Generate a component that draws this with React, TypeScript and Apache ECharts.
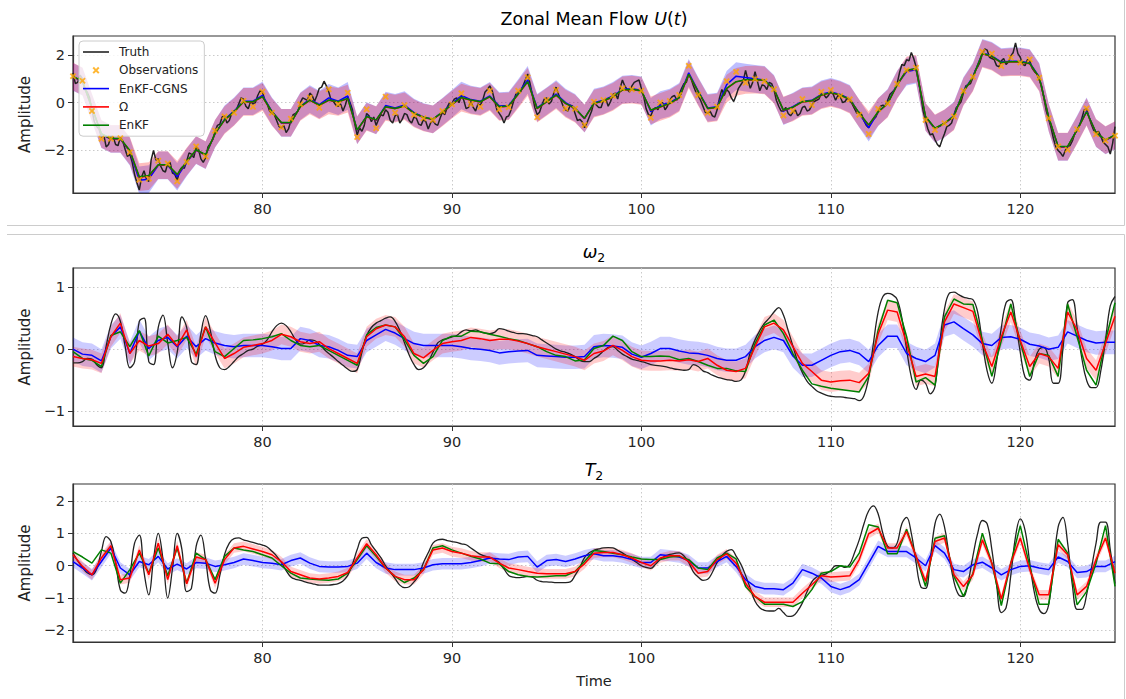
import React, { useEffect, useRef } from 'react';
import * as echarts from 'echarts';

// ---------- time grids ----------
const EST_START = 70;
const EST_STEP = 0.5;
const EST_COUNT = 111;
const TRUTH_STEP = 0.25;
const TRUTH_COUNT = 221;
const estTimes: number[] = Array.from({ length: EST_COUNT }, (_, i) => EST_START + i * EST_STEP);
const truthTimes: number[] = Array.from({ length: TRUTH_COUNT }, (_, i) => EST_START + i * TRUTH_STEP);

const X_TICKS = [80, 90, 100, 110, 120];

// ---------- Panel 1: Zonal mean flow U(t) ----------
// truth sampled every 0.25 (on grid) ...
const uTruth = [
  1.25, 0.85, 1.0, 0.45, -0.3, -1.0, -1.45, -1.85, -1.4, -1.75, -1.45, -1.95, -2.15, -3.0, -3.65, -2.85, -3.3, -2.0, -2.35, -2.85,
  -2.55, -2.95, -3.25, -2.7, -2.45, -2.15, -1.85, -2.35, -2.3, -1.7, -1.2, -0.9, -0.55, -0.75, -0.35, -0.05, 0.15, -0.25, -0.05, 0.3,
  0.45, -0.05, -0.45, -0.75, -1.05, -1.25, -0.75, -0.45, 0.0, 0.15, 0.4, 0.05, 0.6, 0.9, 0.45, 0.05, -0.15, -0.35, 0.25, -0.3,
  -1.35, -1.2, -0.45, -0.8, -0.95, -0.5, -0.3, -0.75, -0.55, -0.85, -0.45, -0.75, -0.6, -0.9, -0.7, -1.1, -0.75, -0.95, -0.4, -0.2,
  -0.05, 0.2, 0.3, -0.25, 0.05, -0.35, -0.1, 0.45, 0.7, 0.1, -0.45, -0.85, -0.55, 0.05, 0.45, 0.7, 1.2, 0.3, -0.5, -0.1,
  0.2, 0.05, 0.65, 0.1, -0.3, -0.1, -0.45, -0.7, -1.05, -0.6, 0.05, -0.2, 0.1, -0.15, 0.35, 0.15, 0.95, 0.55, 0.7, 0.9,
  0.6, -0.25, -0.55, -0.2, -0.05, -0.3, 0.1, 0.3, 0.35, 0.8, 1.2, 0.7, 0.3, -0.15, -0.45, -0.55, -0.3, 0.55, 0.55, 0.2,
  0.3, 0.75, 1.35, 0.6, 1.3, 0.5, 0.7, 0.85, 0.55, -0.15, -0.35, -0.45, -0.4, -0.55, -0.2, -0.35, -0.1, 0.1, 0.4, 0.2,
  0.5, 0.1, 0.25, 0.05, 0.1, -0.25, -0.4, -0.75, -1.05, -0.7, -0.35, -0.1, 0.1, 0.45, 0.8, 1.6, 1.8, 2.1, 1.5, 0.3,
  -0.75, -1.35, -1.55, -1.85, -1.3, -0.95, -0.5, -0.1, 0.4, 0.75, 1.05, 1.5, 2.05, 2.2, 1.85, 1.55, 1.75, 1.6, 1.95, 2.5,
  1.9, 1.55, 1.75, 1.3, 0.95, 0.2, -0.7, -1.5, -2.0, -2.25, -1.85, -1.6, -1.15, -0.65, -0.25, -0.9, -1.25, -1.4, -1.75, -2.15,
  -1.0,
];
// ... and the noisy values read half-way between those samples (t = 70.125, 70.375, ...)
const uTruthMid = [
  0.8, 1.15, 0.55, 0.2, -0.8, -1.1, -1.35, -1.75, -1.45, -1.8, -1.6, -2.25, -2.5, -3.35, -3.1, -3.2, -2.4, -2.4, -2.65, -2.9,
  -2.5, -3.0, -2.85, -2.75, -2.1, -2.3, -1.95, -2.5, -1.85, -1.55, -0.95, -0.6, -0.85, -0.45, -0.3, 0.2, -0.15, 0.05, 0.0, 0.5,
  0.1, -0.35, -0.5, -1.0, -0.95, -1.1, -0.5, -0.35, 0.2, 0.1, 0.3, 0.3, 0.65, 0.7, 0.1, -0.1, -0.05, -0.1, 0.0, -0.9,
  -1.05, -0.95, -0.55, -0.6, -0.7, -0.55, -0.4, -0.85, -0.5, -0.7, -0.5, -0.85, -0.65, -0.95, -0.8, -0.85, -0.9, -0.65, -0.5, 0.0,
  0.15, 0.0, 0.1, -0.2, -0.2, -0.05, 0.1, 0.55, 0.5, -0.3, -0.6, -0.6, -0.3, 0.35, 0.45, 0.95, 0.8, -0.2, -0.4, 0.15,
  -0.05, 0.4, 0.35, -0.15, -0.35, -0.15, -0.75, -0.8, -0.85, -0.35, -0.1, -0.2, 0.15, 0.05, 0.4, 0.6, 0.7, 0.45, 0.85, 0.95,
  0.25, -0.5, -0.3, -0.3, 0.0, -0.15, 0.25, 0.1, 0.6, 0.85, 1.0, 0.45, 0.1, -0.4, -0.35, -0.6, 0.2, 0.3, 0.45, 0.05,
  0.6, 0.9, 0.95, 0.85, 0.9, 0.75, 0.55, 0.8, 0.1, -0.35, -0.2, -0.55, -0.3, -0.45, -0.15, -0.3, 0.05, 0.15, 0.35, 0.3,
  0.35, 0.3, 0.0, 0.2, -0.05, -0.45, -0.5, -0.95, -0.8, -0.6, -0.15, -0.15, 0.35, 0.55, 1.25, 1.55, 1.75, 1.85, 1.0, -0.35,
  -1.1, -1.3, -1.75, -1.55, -1.0, -0.85, -0.2, 0.05, 0.7, 0.8, 1.35, 1.7, 2.25, 1.9, 1.8, 1.5, 1.85, 1.7, 2.1, 2.05,
  1.6, 1.8, 1.45, 1.2, 0.7, -0.35, -1.05, -1.85, -2.1, -2.0, -1.8, -1.3, -0.95, -0.3, -0.6, -1.15, -1.2, -1.65, -1.85, -1.7,
];
const uObs = [
  1.11, 0.92, -0.35, -1.51, -1.51, -1.49, -2.07, -3.23, -3.18, -2.43,
  -2.55, -3.29, -2.48, -1.83, -2.25, -1.17, -0.58, -0.42, 0.08, -0.17,
  0.46, -0.42, -1.03, -0.67, -0.07, 0.21, -0.21, 0.56, -0.07, 0.42,
  -1.44, -0.28, -1.07, 0.25, -0.42, -0.11, -0.51, -0.65, -0.72, -0.35,
  -0.07, 0.39, -0.06, -0.17, 0.5, -0.28, -0.19, 0.5, 1.06, -0.61,
  0.11, 0.53, -0.24, -0.25, -0.93, 0.04, 0.11, 0.29, 0.6, 0.56,
  0.5, -0.63, 0.01, 0.07, 0.32, 1.54, 0.32, -0.42, -0.17, 0.9,
  1.29, 0.83, 0.99, 0.9, 0.56, -0.54, -0.35, 0.15, -0.1, 0.46,
  0.53, 0.28, 0.14, -0.51, -1.31, -0.26, -0.03, 0.78, 1.36, 1.46,
  -0.72, -1.14, -0.86, -0.58, 0.49, 1.08, 2.13, 2.06, 1.53, 1.89,
  1.68, 1.81, 1.04, -0.65, -1.83, -1.97, -1.11, -0.24, -1.32, -1.58,
  -1.38,
];
const uCgns = [
  1.08, 0.88, -0.22, -1.32, -1.52, -1.52, -2.05, -3.25, -3.2, -2.62,
  -2.62, -3.1, -2.5, -1.99, -2.2, -1.3, -0.7, -0.36, 0.06, 0.06,
  0.3, -0.36, -0.85, -0.85, -0.15, 0.15, -0.08, 0.2, 0.06, 0.28,
  -1.16, -0.56, -0.74, -0.12, -0.22, -0.1, -0.42, -0.6, -0.7, -0.38,
  -0.05, 0.3, 0.13, 0.06, 0.28, -0.14, -0.12, 0.4, 0.95, -0.22,
  0.06, 0.36, 0.0, -0.22, -0.67, 0.0, 0.1, 0.28, 0.55, 0.58,
  0.52, -0.38, -0.1, 0.0, 0.24, 1.25, 0.48, -0.22, -0.17, 0.75,
  1.11, 1.05, 1.0, 0.95, 0.58, -0.35, -0.17, 0.06, 0.1, 0.35,
  0.45, 0.34, 0.16, -0.46, -1.05, -0.4, -0.01, 0.76, 1.3, 1.38,
  -0.6, -1.1, -0.88, -0.54, 0.48, 1.08, 2.08, 1.96, 1.7, 1.73,
  1.73, 1.66, 1.08, -0.63, -1.85, -1.85, -1.12, -0.36, -1.27, -1.58,
  -1.37,
];
const uOmega = [
  1.09, 0.89, -0.21, -1.31, -1.51, -1.51, -2.02, -3.12, -3.07, -2.61,
  -2.61, -3.02, -2.47, -1.98, -2.19, -1.29, -0.73, -0.39, 0.03, 0.03,
  0.24, -0.39, -0.84, -0.84, -0.18, 0.1, -0.11, 0.1, 0.03, 0.17,
  -1.15, -0.59, -0.73, -0.18, -0.25, -0.15, -0.45, -0.62, -0.7, -0.41,
  -0.08, 0.21, 0.1, 0.03, 0.24, -0.18, -0.15, 0.35, 0.87, -0.25,
  0.03, 0.31, -0.04, -0.25, -0.66, -0.04, 0.07, 0.24, 0.52, 0.55,
  0.49, -0.32, -0.18, -0.04, 0.2, 1.18, 0.45, -0.25, -0.2, 0.59,
  0.87, 0.95, 0.96, 0.93, 0.55, -0.32, -0.2, 0.03, 0.07, 0.31,
  0.41, 0.31, 0.13, -0.45, -0.94, -0.39, -0.04, 0.73, 1.35, 1.42,
  -0.59, -1.08, -0.87, -0.57, 0.45, 1.05, 2.05, 1.93, 1.67, 1.7,
  1.7, 1.63, 1.05, -0.62, -1.84, -1.84, -1.15, -0.39, -1.26, -1.57,
  -1.36,
];
const uEnkf = [
  1.1, 0.9, -0.2, -1.3, -1.5, -1.5, -2.0, -3.1, -3.05, -2.6,
  -2.6, -3.0, -2.46, -1.97, -2.18, -1.28, -0.72, -0.38, 0.04, 0.04,
  0.25, -0.38, -0.83, -0.83, -0.17, 0.11, -0.1, 0.11, 0.04, 0.18,
  -1.14, -0.58, -0.72, -0.17, -0.24, -0.14, -0.44, -0.61, -0.69, -0.4,
  -0.07, 0.22, 0.11, 0.04, 0.25, -0.17, -0.14, 0.36, 0.88, -0.24,
  0.04, 0.32, -0.03, -0.24, -0.65, -0.03, 0.08, 0.25, 0.53, 0.56,
  0.5, -0.31, -0.17, -0.03, 0.21, 1.19, 0.46, -0.24, -0.19, 0.6,
  0.88, 0.96, 0.97, 0.94, 0.56, -0.31, -0.19, 0.04, 0.08, 0.32,
  0.42, 0.32, 0.14, -0.44, -0.93, -0.38, -0.03, 0.74, 1.36, 1.43,
  -0.58, -1.07, -0.86, -0.56, 0.46, 1.06, 2.06, 1.94, 1.68, 1.71,
  1.71, 1.64, 1.06, -0.61, -1.83, -1.83, -1.14, -0.38, -1.25, -1.56,
  -1.35,
];

// ---------- Panel 2: omega_2 ----------
const wTruth = [
  -0.22, -0.22, -0.2, -0.15, -0.16, -0.25, -0.3, 0.05, 0.4, 0.57, 0.45, 0.05, -0.3, -0.2, 0.45, 0.5, -0.2, -0.25, 0.35, 0.55,
  0.1, -0.3, -0.05, 0.52, 0.35, -0.2, -0.25, 0.25, 0.54, 0.3, -0.1, -0.3, -0.33, -0.28, -0.2, -0.12, -0.07, -0.02, 0.0, 0.05,
  0.08, 0.15, 0.28, 0.38, 0.42, 0.38, 0.28, 0.15, 0.08, 0.1, 0.15, 0.14, 0.08, 0.0, -0.07, -0.13, -0.2, -0.26, -0.32, -0.36,
  -0.33, -0.05, 0.22, 0.35, 0.42, 0.46, 0.5, 0.52, 0.45, 0.3, 0.1, -0.1, -0.25, -0.33, -0.3, -0.2, -0.05, 0.1, 0.15, 0.17,
  0.2, 0.22, 0.28, 0.31, 0.3, 0.31, 0.28, 0.26, 0.25, 0.27, 0.33, 0.32, 0.29, 0.27, 0.25, 0.25, 0.24, 0.22, 0.2, 0.15,
  0.1, 0.05, 0.0, -0.03, -0.05, -0.08, -0.12, -0.18, -0.2, -0.2, -0.15, -0.1, -0.03, 0.03, 0.04, -0.02, -0.08, -0.12, -0.16, -0.18,
  -0.2, -0.22, -0.25, -0.26, -0.27, -0.28, -0.3, -0.32, -0.33, -0.34, -0.33, -0.25, -0.28, -0.35, -0.38, -0.42, -0.45, -0.47, -0.49, -0.5,
  -0.52, -0.5, -0.35, -0.05, 0.15, 0.3, 0.42, 0.5, 0.6, 0.67, 0.55, 0.3, 0.05, -0.2, -0.38, -0.52, -0.6, -0.67, -0.71, -0.74,
  -0.76, -0.77, -0.77, -0.78, -0.79, -0.8, -0.83, -0.75, -0.45, 0.1, 0.6, 0.85, 0.9, 0.88, 0.8, 0.5, 0.0, -0.45, -0.65, -0.5,
  -0.55, -0.72, -0.6, 0.1, 0.65, 0.9, 0.92, 0.88, 0.84, 0.82, 0.8, 0.6, 0.1, -0.35, -0.55, -0.2, 0.35, 0.75, 0.8, 0.45,
  -0.05, -0.45, -0.5, -0.2, 0.0, 0.03, -0.15, -0.55, -0.55, 0.0, 0.75, 0.8, 0.35, -0.15, -0.5, -0.62, -0.62, -0.35, 0.15, 0.7,
  0.85,
];
const wCgns = [
  0.0, -0.08, -0.1, -0.19, 0.2, 0.36, -0.07, 0.29, 0.01, 0.14,
  0.19, 0.04, 0.21, 0.04, 0.17, 0.1, 0.06, 0.04, 0.06, 0.06,
  0.06, 0.04, 0.01, 0.01, 0.17, 0.14, 0.06, 0.04, -0.02, -0.1,
  -0.12, 0.14, 0.23, 0.32, 0.26, 0.17, 0.09, 0.06, 0.06, 0.06,
  0.06, 0.04, 0.01, 0.0, -0.02, -0.06, -0.04, -0.03, -0.02, -0.1,
  -0.11, -0.12, -0.13, -0.13, -0.12, 0.04, 0.06, 0.05, 0.03, -0.08,
  -0.13, -0.07, 0.01, 0.01, -0.03, -0.06, -0.07, -0.1, -0.15, -0.18,
  -0.18, -0.12, 0.04, 0.14, 0.19, 0.14, -0.11, -0.26, -0.26, -0.18,
  -0.1, -0.04, -0.02, -0.07, -0.2, 0.06, 0.21, 0.21, -0.07, -0.15,
  -0.2, -0.1, 0.39, 0.44, 0.33, 0.23, 0.09, 0.06, 0.19, 0.2,
  0.16, 0.08, 0.05, 0.0, 0.03, 0.28, 0.21, 0.14, 0.1, 0.11,
  0.11,
];
const wOmega = [
  -0.12, -0.15, -0.17, -0.23, 0.2, 0.42, -0.07, 0.14, 0.05, 0.09,
  0.24, 0.05, 0.31, -0.12, 0.36, 0.1, -0.15, -0.07, 0.03, 0.06,
  0.09, 0.14, 0.24, 0.2, 0.12, 0.09, 0.12, 0.01, -0.07, -0.15,
  -0.23, 0.2, 0.33, 0.39, 0.36, 0.2, -0.07, -0.14, -0.02, 0.09,
  0.12, 0.14, 0.19, 0.17, 0.14, 0.16, 0.16, 0.13, 0.09, 0.04,
  0.0, -0.04, -0.08, -0.12, -0.18, -0.07, -0.03, 0.06, -0.02, -0.12,
  -0.18, -0.19, -0.19, -0.18, -0.19, -0.17, -0.2, -0.15, -0.26, -0.34,
  -0.36, -0.31, 0.04, 0.36, 0.42, 0.31, 0.04, -0.23, -0.36, -0.5,
  -0.53, -0.51, -0.5, -0.54, -0.39, 0.25, 0.63, 0.6, 0.09, -0.44,
  -0.4, -0.44, 0.44, 0.73, 0.67, 0.61, 0.09, -0.28, 0.2, 0.6,
  0.14, -0.28, -0.07, -0.12, -0.31, 0.6, 0.31, -0.15, -0.34, 0.09,
  0.53,
];
const wEnkf = [
  -0.04, -0.15, -0.18, -0.28, 0.22, 0.28, 0.04, 0.3, -0.11, 0.21,
  0.1, 0.14, 0.19, -0.08, 0.36, -0.04, -0.12, 0.01, 0.14, 0.15,
  0.17, 0.2, 0.25, 0.14, 0.06, 0.04, 0.06, -0.02, -0.1, -0.18,
  -0.26, 0.23, 0.35, 0.39, 0.36, 0.15, -0.1, -0.23, -0.12, 0.14,
  0.21, 0.21, 0.29, 0.28, 0.24, 0.21, 0.17, 0.14, 0.09, 0.04,
  -0.04, -0.1, -0.12, -0.19, -0.17, 0.01, 0.06, 0.21, 0.14, -0.04,
  -0.12, -0.12, -0.11, -0.12, -0.17, -0.15, -0.2, -0.26, -0.31, -0.31,
  -0.35, -0.36, 0.09, 0.39, 0.47, 0.25, -0.07, -0.34, -0.56, -0.6,
  -0.63, -0.65, -0.67, -0.69, -0.44, 0.31, 0.79, 0.75, 0.2, -0.53,
  -0.46, -0.58, 0.52, 0.81, 0.73, 0.72, 0.14, -0.44, 0.14, 0.73,
  0.12, -0.44, -0.07, -0.1, -0.44, 0.73, 0.2, -0.34, -0.58, 0.14,
  0.75,
];

// ---------- Panel 3: T_2 ----------
const tTruth = [
  0.39, 0.15, -0.05, -0.22, -0.28, -0.1, 0.45, 0.9, 0.75, 0.1, -0.75, -0.85, -0.3, 0.7, 0.95, -0.2, -0.9, 0.2, 1.0, 0.2,
  -1.0, -0.1, 1.0, 0.5, -0.8, -0.7, 0.6, 0.95, 0.2, -0.75, -0.85, -0.3, 0.35, 0.7, 0.84, 0.86, 0.8, 0.76, 0.72, 0.68,
  0.64, 0.58, 0.45, 0.3, 0.1, -0.15, -0.35, -0.42, -0.45, -0.5, -0.54, -0.57, -0.6, -0.6, -0.6, -0.58, -0.55, -0.47, -0.3, 0.05,
  0.5, 0.85, 0.88, 0.65, 0.45, 0.25, 0.0, -0.2, -0.4, -0.6, -0.68, -0.65, -0.5, -0.3, 0.1, 0.4, 0.7, 0.8, 0.82, 0.78,
  0.75, 0.72, 0.68, 0.65, 0.55, 0.45, 0.35, 0.3, 0.25, 0.2, 0.1, -0.1, -0.3, -0.35, -0.37, -0.35, -0.33, -0.35, -0.45, -0.49,
  -0.5, -0.51, -0.52, -0.52, -0.52, -0.5, -0.3, -0.05, 0.25, 0.4, 0.48, 0.52, 0.55, 0.56, 0.55, 0.48, 0.4, 0.3, 0.2, 0.1,
  0.0, -0.05, -0.08, 0.05, 0.2, 0.3, 0.35, 0.38, 0.4, 0.3, 0.1, -0.2, -0.35, -0.45, -0.42, -0.2, 0.1, 0.3, 0.45, 0.5,
  0.3, 0.05, -0.3, -0.7, -1.1, -1.3, -1.38, -1.4, -1.4, -1.32, -1.45, -1.57, -1.55, -1.4, -1.15, -0.8, -0.5, -0.35, -0.3, -0.25,
  -0.15, 0.0, 0.0, -0.05, 0.05, 0.4, 0.8, 1.3, 1.7, 1.85, 1.6, 1.0, 0.6, 0.55, 0.7, 1.3, 1.5, 1.0, 0.1, -0.65,
  -0.7, 0.2, 1.3, 1.6, 1.2, 0.3, -0.5, -0.9, -0.95, -0.5, 0.3, 1.0, 1.4, 1.3, 0.5, -0.6, -1.45, -1.3, -0.3, 0.9,
  1.45, 1.1, 0.1, -0.85, -1.35, -1.48, -1.2, 0.0, 1.2, 1.5, 0.7, -0.6, -1.35, -1.35, -0.9, -0.1, 0.7, 1.35, 1.35, 0.5,
  -0.55,
];
const tCgns = [
  0.13, -0.07, -0.28, 0.13, 0.55, -0.07, -0.28, 0.13, 0.03, 0.29,
  -0.1, 0.05, -0.1, 0.1, 0.08, -0.02, 0.03, 0.1, 0.21, 0.16,
  0.1, 0.08, 0.03, 0.16, 0.24, 0.08, -0.02, -0.04, -0.04, -0.02,
  0.08, 0.39, 0.1, -0.07, -0.12, -0.12, -0.12, -0.07, 0.03, 0.06,
  0.06, 0.06, 0.1, 0.16, 0.24, 0.21, 0.19, 0.27, 0.29, -0.04,
  0.16, 0.19, 0.13, 0.21, 0.31, 0.37, 0.31, 0.31, 0.27, 0.19,
  0.1, 0.1, 0.34, 0.31, 0.27, 0.16, -0.07, -0.07, 0.13, 0.29,
  -0.02, -0.43, -0.64, -0.71, -0.71, -0.74, -0.54, -0.12, -0.23, -0.38,
  -0.64, -0.74, -0.64, -0.43, 0.08, 0.6, 0.44, 0.44, 0.44, 0.24,
  0.0, 0.62, 0.39, -0.12, -0.18, 0.03, 0.11, -0.07, -0.28, -0.12,
  -0.02, 0.0, -0.07, -0.12, 0.27, 0.13, -0.21, -0.18, -0.02, -0.02,
  0.13,
];
const tOmega = [
  0.34, -0.02, -0.28, 0.24, 0.62, -0.43, -0.38, 0.49, -0.28, 0.7,
  -0.43, 0.62, -0.56, 0.27, 0.19, -0.54, 0.19, 0.55, 0.6, 0.52,
  0.44, 0.34, 0.13, -0.18, -0.28, -0.38, -0.41, -0.38, -0.33, -0.21,
  0.24, 0.68, 0.34, -0.07, -0.33, -0.43, -0.43, -0.12, 0.49, 0.55,
  0.44, 0.39, 0.31, 0.27, 0.27, 0.08, -0.07, -0.12, -0.18, -0.23,
  -0.25, -0.25, -0.25, -0.18, 0.06, 0.39, 0.41, 0.41, 0.34, 0.24,
  0.1, 0.0, 0.24, 0.31, 0.31, 0.13, -0.23, -0.18, 0.19, 0.37,
  0.08, -0.54, -0.95, -1.13, -1.13, -1.13, -1.13, -0.85, -0.59, -0.31,
  -0.35, -0.33, -0.31, 0.19, 0.99, 1.16, 0.55, 0.55, 1.06, 0.29,
  -0.48, 0.75, 0.86, -0.28, -0.64, -0.28, 0.8, 0.08, -1.03, 0.08,
  0.86, -0.12, -0.9, -0.9, 0.65, 0.34, -0.9, -0.64, 0.19, 0.86,
  -0.23,
];
const tEnkf = [
  0.44, 0.27, 0.08, 0.49, 0.39, -0.54, -0.12, 0.39, -0.23, 0.55,
  -0.31, 0.55, -0.54, 0.39, 0.19, -0.43, 0.29, 0.55, 0.49, 0.44,
  0.34, 0.24, 0.0, -0.23, -0.38, -0.41, -0.43, -0.45, -0.41, -0.23,
  0.19, 0.62, 0.29, -0.07, -0.33, -0.52, -0.38, -0.12, 0.55, 0.62,
  0.49, 0.39, 0.29, 0.21, 0.08, 0.06, -0.18, -0.28, -0.33, -0.35,
  -0.33, -0.31, -0.31, -0.18, 0.13, 0.47, 0.44, 0.39, 0.34, 0.27,
  0.21, 0.19, 0.19, 0.27, 0.29, 0.19, -0.07, -0.12, 0.24, 0.39,
  0.21, -0.64, -0.95, -1.19, -1.19, -1.19, -1.26, -1.11, -0.74, -0.23,
  -0.18, 0.0, -0.04, 0.39, 1.27, 1.2, 0.37, 0.37, 1.13, 0.29,
  -0.64, 0.85, 0.93, -0.33, -0.95, -0.23, 1.01, 0.08, -1.23, 0.08,
  1.24, -0.02, -1.19, -1.19, 0.82, 0.39, -1.21, -0.8, 0.08, 1.24,
  -0.64,
];

// uncertainty half-widths (posterior spread) per panel
const U_SPREAD_CGNS = 0.58;
const U_SPREAD_OMEGA = 0.58;
const W_SPREAD_CGNS = 0.19;
const W_SPREAD_OMEGA = 0.16;
const T_SPREAD_CGNS = 0.18;
const T_SPREAD_OMEGA = 0.15;

const FONT = 'DejaVu Sans';
const C_TRUTH = '#222222';
const C_CGNS = '#0000ff';
const C_OMEGA = '#ff0000';
const C_ENKF = '#008000';
const C_OBS = '#ffa500';
const X_MARK =
  'path://M0,2 L2,0 L5,3 L8,0 L10,2 L7,5 L10,8 L8,10 L5,7 L2,10 L0,8 L3,5 Z';
const LINE_ICON = 'path://M0,0 L26,0 L26,1.6 L0,1.6 Z';

const pairs = (ts: number[], vs: number[]) => ts.map((t, i) => [t, vs[i]]);

// on-grid truth samples merged with the half-way samples, in time order
function mergeFine(ts: number[], onGrid: number[], mid: number[]) {
  const out: number[][] = [];
  for (let i = 0; i < ts.length; i++) {
    out.push([ts[i], onGrid[i]]);
    if (i < mid.length) out.push([ts[i] + TRUTH_STEP / 2, mid[i]]);
  }
  return out;
}

function band(name: string, idx: number, mean: number[], half: number, color: string) {
  const data = estTimes.map((t, i) => [t, mean[i] - half, mean[i] + half]);
  return {
    type: 'custom',
    name,
    xAxisIndex: idx,
    yAxisIndex: idx,
    silent: true,
    clip: true,
    z: 1,
    encode: { x: 0, y: [1, 2] },
    data,
    renderItem: (params: any, api: any) => {
      if (params.dataIndex !== 0) return null;
      const up = data.map((d) => api.coord([d[0], d[2]]));
      const lo = data.map((d) => api.coord([d[0], d[1]])).reverse();
      return {
        type: 'polygon',
        shape: { points: up.concat(lo) },
        style: { fill: color, stroke: 'none' },
      };
    },
  };
}

function lineOf(name: string, idx: number, data: any[], color: string, width: number, smooth: any = false) {
  return {
    type: 'line',
    name,
    xAxisIndex: idx,
    yAxisIndex: idx,
    data,
    showSymbol: false,
    symbol: 'none',
    smooth,
    z: 3,
    lineStyle: { color, width },
    itemStyle: { color },
  };
}
const line = (name: string, idx: number, ts: number[], vs: number[], color: string, width: number, smooth: any = false) =>
  lineOf(name, idx, pairs(ts, vs), color, width, smooth);

const minus = (v: number) => (v < 0 ? '\u2212' + Math.abs(v) : String(v));

const gridDefs = [
  { top: 36, height: 157, min: -3.78, max: 2.79, ticks: [-2, 0, 2] },
  { top: 268, height: 158, min: -1.24, max: 1.31, ticks: [-1, 0, 1] },
  { top: 484, height: 158, min: -2.36, max: 2.53, ticks: [-2, -1, 0, 1, 2] },
];

const splitStyle = { color: '#c4c4c4', width: 0.9, type: [1.5, 2.5] };
const axisColor = '#333333';

const subTitleStyle = {
  fontFamily: FONT, fontSize: 17.5, fontWeight: 'normal', color: '#000',
  rich: {
    i: { fontFamily: FONT, fontSize: 17.5, fontStyle: 'italic', color: '#000', lineHeight: 24 },
    s: { fontFamily: FONT, fontSize: 12.5, color: '#000', verticalAlign: 'bottom', lineHeight: 14 },
  },
};

export default function App() {
  const ref = useRef<HTMLDivElement>(null);
  useEffect(() => {
    if (!ref.current) return;
    const chart = echarts.init(ref.current, undefined, { renderer: 'svg' });
    const option: any = {
      animation: false,
      backgroundColor: '#ffffff',
      textStyle: { fontFamily: FONT },
      title: [
        {
          text: 'Zonal Mean Flow {i|U}({i|t})',
          left: 594,
          top: 10,
          textAlign: 'center',
          padding: 0,
          textStyle: {
            fontFamily: FONT, fontSize: 17.5, fontWeight: 'normal', color: '#000',
            rich: { i: { fontFamily: FONT, fontSize: 17.5, fontStyle: 'italic', color: '#000' } },
          },
        },
        { text: '{i|ω}{s|2}', left: 594, top: 240, textAlign: 'center', padding: 0, textStyle: subTitleStyle },
        { text: '{i|T}{s|2}', left: 594, top: 458, textAlign: 'center', padding: 0, textStyle: subTitleStyle },
      ],
      legend: {
        show: true,
        orient: 'vertical',
        left: 79,
        top: 41,
        padding: [5, 6, 5, 4],
        itemGap: 6.3,
        itemWidth: 26,
        itemHeight: 7,
        backgroundColor: 'rgba(255,255,255,0.8)',
        borderColor: '#cccccc',
        borderWidth: 1,
        borderRadius: 4,
        textStyle: { fontFamily: FONT, fontSize: 12, color: '#222', padding: [0, 0, 0, 5] },
        data: [
          { name: 'Truth', icon: LINE_ICON, itemStyle: { color: C_TRUTH } },
          { name: 'Observations', icon: X_MARK, itemStyle: { color: C_OBS } },
          { name: 'EnKF-CGNS', icon: LINE_ICON, itemStyle: { color: C_CGNS } },
          { name: 'Ω', icon: LINE_ICON, itemStyle: { color: C_OMEGA } },
          { name: 'EnKF', icon: LINE_ICON, itemStyle: { color: C_ENKF } },
        ],
      },
      grid: gridDefs.map((g) => ({
        left: 73,
        right: 11,
        top: g.top,
        height: g.height,
        show: true,
        borderColor: axisColor,
        borderWidth: 1.2,
        backgroundColor: 'transparent',
      })),
      xAxis: gridDefs.map((g, i) => ({
        type: 'value',
        gridIndex: i,
        min: 70,
        max: 125,
        name: i === 2 ? 'Time' : '',
        nameLocation: 'middle',
        nameGap: 31,
        nameTextStyle: { fontFamily: FONT, fontSize: 14.5, color: '#222' },
        axisLine: { show: true, onZero: false, lineStyle: { color: axisColor, width: 1.2 } },
        axisTick: { show: true, length: 5, customValues: X_TICKS, lineStyle: { color: axisColor, width: 1 } },
        axisLabel: { customValues: X_TICKS, margin: 8, fontFamily: FONT, fontSize: 14.5, color: '#262626' },
        splitLine: { show: true, lineStyle: splitStyle },
      })),
      yAxis: gridDefs.map((g, i) => ({
        type: 'value',
        gridIndex: i,
        min: g.min,
        max: g.max,
        name: 'Amplitude',
        nameLocation: 'middle',
        nameGap: 40,
        nameTextStyle: { fontFamily: FONT, fontSize: 15, color: '#222' },
        axisLine: { show: true, onZero: false, lineStyle: { color: axisColor, width: 1.2 } },
        axisTick: { show: true, length: 5, customValues: g.ticks, lineStyle: { color: axisColor, width: 1 } },
        axisLabel: { customValues: g.ticks, margin: 8, fontFamily: FONT, fontSize: 14.5, color: '#262626', formatter: minus },
        splitLine: { show: true, lineStyle: splitStyle },
      })),
      graphic: [
        { type: 'line', shape: { x1: 7, y1: 225.5, x2: 1124.5, y2: 225.5 }, style: { stroke: '#cccccc', lineWidth: 1 }, silent: true },
        { type: 'line', shape: { x1: 1124.5, y1: 0, x2: 1124.5, y2: 225.5 }, style: { stroke: '#cccccc', lineWidth: 1 }, silent: true },
        { type: 'line', shape: { x1: 7, y1: 234.5, x2: 1124.5, y2: 234.5 }, style: { stroke: '#cccccc', lineWidth: 1 }, silent: true },
        { type: 'line', shape: { x1: 1124.5, y1: 234.5, x2: 1124.5, y2: 699 }, style: { stroke: '#cccccc', lineWidth: 1 }, silent: true },
      ],
      series: [
        // panel 1
        band('U band CGNS', 0, uCgns, U_SPREAD_CGNS, 'rgba(0,0,255,0.26)'),
        band('U band Omega', 0, uOmega, U_SPREAD_OMEGA, 'rgba(255,0,0,0.26)'),
        lineOf('Truth', 0, mergeFine(truthTimes, uTruth, uTruthMid), C_TRUTH, 1.5),
        line('EnKF-CGNS', 0, estTimes, uCgns, C_CGNS, 1.5),
        line('Ω', 0, estTimes, uOmega, C_OMEGA, 1.5),
        line('EnKF', 0, estTimes, uEnkf, C_ENKF, 1.5),
        {
          type: 'scatter',
          name: 'Observations',
          xAxisIndex: 0,
          yAxisIndex: 0,
          data: pairs(estTimes, uObs),
          symbol: X_MARK,
          symbolSize: 6.5,
          z: 4,
          itemStyle: { color: C_OBS },
        },
        // panel 2
        band('W band CGNS', 1, wCgns, W_SPREAD_CGNS, 'rgba(0,0,255,0.2)'),
        band('W band Omega', 1, wOmega, W_SPREAD_OMEGA, 'rgba(255,0,0,0.2)'),
        line('Truth', 1, truthTimes, wTruth, C_TRUTH, 1.3, 0.4),
        line('EnKF-CGNS', 1, estTimes, wCgns, C_CGNS, 1.5),
        line('EnKF', 1, estTimes, wEnkf, C_ENKF, 1.5),
        line('Ω', 1, estTimes, wOmega, C_OMEGA, 1.5),
        // panel 3
        band('T band CGNS', 2, tCgns, T_SPREAD_CGNS, 'rgba(0,0,255,0.2)'),
        band('T band Omega', 2, tOmega, T_SPREAD_OMEGA, 'rgba(255,0,0,0.2)'),
        line('Truth', 2, truthTimes, tTruth, C_TRUTH, 1.3, 0.4),
        line('EnKF-CGNS', 2, estTimes, tCgns, C_CGNS, 1.5),
        line('EnKF', 2, estTimes, tEnkf, C_ENKF, 1.5),
        line('Ω', 2, estTimes, tOmega, C_OMEGA, 1.5),
      ],
    };
    chart.setOption(option);
    return () => chart.dispose();
  }, []);
  return (
    <div
      ref={ref}
      style={{ position: 'absolute', left: 0, top: 0, width: 1126, height: 699, background: '#fff' }}
    />
  );
}
